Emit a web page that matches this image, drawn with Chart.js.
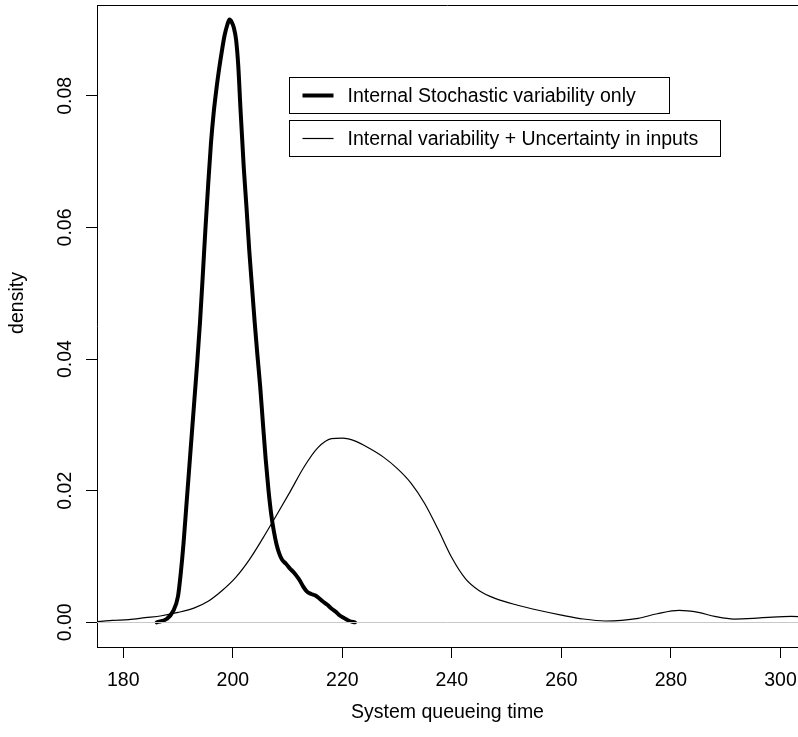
<!DOCTYPE html>
<html>
<head>
<meta charset="utf-8">
<script src="https://cdn.jsdelivr.net/npm/chart.js@4"></script>
<style>
    body { margin: 0; background: #fff; }
    canvas { display: block; }
</style>
</head>
<body>
<canvas id="densityChart" width="798" height="737"></canvas>
<script>
// Density of system queueing time
const stochasticX = [186.1, 187.9, 189.1, 190.0, 190.5, 191.0, 191.5, 192.0, 192.5, 193.0, 193.5, 194.0, 194.5, 195.0, 195.5, 196.0, 196.5, 197.0, 197.5, 198.0, 198.5, 199.0, 199.4, 199.8, 200.2, 200.6, 201.0, 201.4, 202.0, 202.5, 203.0, 203.5, 204.0, 204.5, 205.0, 205.5, 206.0, 206.5, 207.0, 207.5, 208.0, 208.5, 209.0, 209.7, 210.4, 211.0, 211.6, 212.2, 212.8, 213.5, 214.3, 215.0, 215.7, 216.4, 217.2, 218.0, 218.8, 219.6, 220.4, 221.3, 222.3];
const stochasticY = [0, 0.0005, 0.0017, 0.004, 0.0075, 0.012, 0.0175, 0.023, 0.0285, 0.034, 0.0395, 0.0455, 0.0525, 0.0598, 0.0665, 0.0727, 0.0774, 0.081, 0.0841, 0.0868, 0.0892, 0.0908, 0.0916, 0.0912, 0.0903, 0.0885, 0.0845, 0.078, 0.0691, 0.063, 0.0565, 0.051, 0.0455, 0.0405, 0.0358, 0.0302, 0.0248, 0.0202, 0.0165, 0.0138, 0.0118, 0.0104, 0.0095, 0.0089, 0.0082, 0.0077, 0.0071, 0.0064, 0.0055, 0.0047, 0.0043, 0.0041, 0.0037, 0.0032, 0.0027, 0.0021, 0.0016, 0.001, 0.0006, 0.0002, 0];

const uncertainX = [172, 175, 178, 181, 184, 187, 190, 193, 195.5, 198, 200.5, 203, 205.5, 208, 210.5, 213, 215.5, 218, 220, 222.5, 225, 227.5, 230, 232.5, 235, 237.5, 240, 242.5, 245, 248, 252, 256, 260, 264, 268, 271, 274, 277.5, 281.5, 285, 288, 291.5, 295, 298.5, 302, 305];
const uncertainY = [0.0001, 0.0001, 0.0003, 0.0004, 0.0007, 0.001, 0.0015, 0.0022, 0.0032, 0.0048, 0.0068, 0.0095, 0.0128, 0.0163, 0.0199, 0.0236, 0.0265, 0.0279, 0.028, 0.0275, 0.0264, 0.0251, 0.0234, 0.0212, 0.0181, 0.0141, 0.0098, 0.0066, 0.0048, 0.0036, 0.0026, 0.0018, 0.0011, 0.0005, 0.0002, 0.0003, 0.0006, 0.0013, 0.0018, 0.0015, 0.0009, 0.0005, 0.0006, 0.0008, 0.0009, 0.0008];

const xTicks = [180, 200, 220, 240, 260, 280, 300];
const yTicks = [0, 0.02, 0.04, 0.06, 0.08];
const seriesNames = ['Internal Stochastic variability only', 'Internal variability + Uncertainty in inputs'];
const xTitle = 'System queueing time';
const yTitle = 'density';

document.addEventListener('DOMContentLoaded', () => {
    const FONT = '"Liberation Sans", Arial, Helvetica, sans-serif';
    const FONT_SIZE = 19.5;

    const toPoints = (xs, ys) => xs.map((x, i) => ({ x: x, y: ys[i] }));

    // fixed margins like the R plot, no extra room for end labels
    const fixSize = (prop, size) => scale => {
        scale[prop] = size;
        scale.paddingLeft = 0;
        scale.paddingRight = 0;
        scale.paddingTop = 0;
        scale.paddingBottom = 0;
    };

    // grey zero line, top border, y title and the two legend boxes
    const decorations = {
        id: 'decorations',
        afterDatasetsDraw(chart) {
            const { ctx, chartArea, scales } = chart;
            const y0 = Math.round(scales.y.getPixelForValue(0)) + 0.5;
            ctx.save();
            ctx.strokeStyle = '#c8c8c8';
            ctx.lineWidth = 1;
            ctx.beginPath();
            ctx.moveTo(chartArea.left, y0);
            ctx.lineTo(chartArea.right, y0);
            ctx.stroke();
            ctx.restore();
        },
        afterDraw(chart) {
            const { ctx, chartArea } = chart;
            ctx.save();
            ctx.strokeStyle = '#000';
            ctx.lineWidth = 1;
            ctx.beginPath();
            ctx.moveTo(chartArea.left, chartArea.top + 0.5);
            ctx.lineTo(chartArea.right, chartArea.top + 0.5);
            ctx.stroke();

            ctx.font = FONT_SIZE + 'px ' + FONT;
            ctx.fillStyle = '#000';

            // y axis title, sits a bit above the plot middle in the original
            ctx.save();
            ctx.translate(18, 303);
            ctx.rotate(-Math.PI / 2);
            ctx.textAlign = 'center';
            ctx.textBaseline = 'middle';
            ctx.fillText(yTitle, 0, 0);
            ctx.restore();

            ctx.textBaseline = 'middle';
            const boxLeft = 289.5;
            const boxTops = [77.5, 120.5];
            const boxWidths = [380, 431];
            const lineWidths = [4, 1.2];
            seriesNames.forEach((name, i) => {
                const top = boxTops[i];
                const h = 36;
                ctx.strokeStyle = '#000';
                ctx.lineWidth = 1;
                ctx.strokeRect(boxLeft, top, boxWidths[i], h);
                const cy = top + h / 2;
                ctx.lineWidth = lineWidths[i];
                ctx.lineCap = 'butt';
                ctx.beginPath();
                ctx.moveTo(boxLeft + 13, cy);
                ctx.lineTo(boxLeft + 44, cy);
                ctx.stroke();
                ctx.fillText(name, boxLeft + 58, cy + 1);
            });
            ctx.restore();
        }
    };

    const ctx = document.getElementById('densityChart').getContext('2d');
    new Chart(ctx, {
        type: 'line',
        data: {
            datasets: [
                {
                    label: seriesNames[0],
                    data: toPoints(stochasticX, stochasticY),
                    borderColor: '#000',
                    borderWidth: 4,
                    borderCapStyle: 'round',
                    borderJoinStyle: 'round',
                    pointRadius: 0,
                    fill: false,
                    cubicInterpolationMode: 'monotone'
                },
                {
                    label: seriesNames[1],
                    data: toPoints(uncertainX, uncertainY),
                    borderColor: '#000',
                    borderWidth: 1.2,
                    pointRadius: 0,
                    fill: false,
                    cubicInterpolationMode: 'monotone'
                }
            ]
        },
        options: {
            responsive: false,
            devicePixelRatio: 1,
            animation: false,
            layout: { padding: { top: 5, left: 0, right: 0, bottom: 0 } },
            plugins: {
                legend: { display: false },
                tooltip: { enabled: false }
            },
            scales: {
                x: {
                    type: 'linear',
                    min: 175.2,
                    max: 303.2,
                    afterBuildTicks: scale => { scale.ticks = xTicks.map(v => ({ value: v })); },
                    afterFit: fixSize('height', 90),
                    grid: { drawOnChartArea: false, drawTicks: true, tickLength: 11, color: '#000', lineWidth: 1 },
                    border: { display: true, color: '#000', width: 1 },
                    ticks: {
                        color: '#000',
                        font: { family: FONT, size: FONT_SIZE },
                        padding: 11,
                        maxRotation: 0,
                        autoSkip: false,
                        callback: v => String(v)
                    },
                    title: {
                        display: true,
                        text: xTitle,
                        color: '#000',
                        font: { family: FONT, size: FONT_SIZE },
                        padding: { top: 0, bottom: 13 }
                    }
                },
                y: {
                    type: 'linear',
                    min: -0.00375,
                    max: 0.0938,
                    afterBuildTicks: scale => { scale.ticks = yTicks.map(v => ({ value: v })); },
                    afterFit: fixSize('width', 97),
                    grid: { drawOnChartArea: false, drawTicks: true, tickLength: 11, color: '#000', lineWidth: 1 },
                    border: { display: true, color: '#000', width: 1 },
                    ticks: {
                        color: '#000',
                        font: { family: FONT, size: FONT_SIZE },
                        minRotation: 90,
                        maxRotation: 90,
                        crossAlign: 'center',
                        padding: 1,
                        autoSkip: false,
                        callback: v => v.toFixed(2)
                    },
                    title: { display: false }
                }
            }
        },
        plugins: [decorations]
    });
});
</script>
</body>
</html>
